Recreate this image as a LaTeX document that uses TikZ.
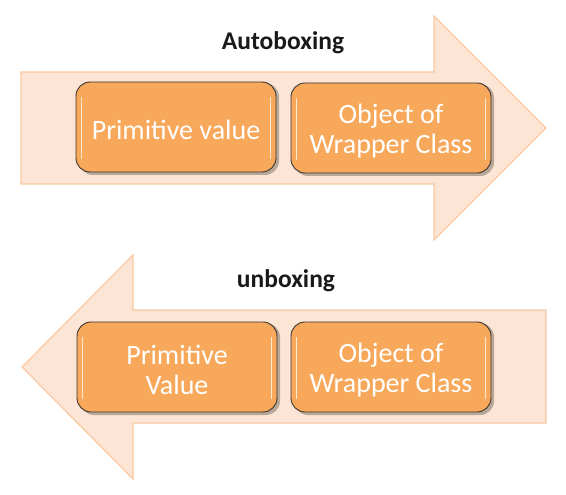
\documentclass[tikz,border=0pt]{standalone}
\usepackage{fontspec}
\setmainfont{Carlito}
\definecolor{arrowfill}{HTML}{FDE5D6}
\definecolor{arrowline}{HTML}{F8C9A3}
\definecolor{boxfill}{HTML}{F8A85A}
\definecolor{boxline}{HTML}{3A3430}
\definecolor{boxshadow}{HTML}{B9A898}
\tikzset{
  bigarrow/.style={fill=arrowfill, draw=arrowline, line width=1.2pt, line join=miter},
  stagebox/.style={rectangle, rounded corners=14pt, minimum width=200pt, minimum height=90pt,
    fill=boxfill, draw=boxline, line width=0.9pt, inner sep=0pt},
  stagetext/.style={text=white, align=center, font=\fontsize{28}{30}\selectfont, inner sep=0pt},
  boxshade/.style={fill=boxshadow, rounded corners=14pt},
  gloss/.style={draw=white, line width=1.1pt, opacity=0.75, line cap=round},
  caption/.style={font=\bfseries\fontsize{25.5}{28}\selectfont, text=black!90}
}
\newcommand{\stage}[3]{%
  % shadow, box, label and glossy edge highlights of one stage
  \fill[boxshade] ($(#2)+(-97,-44)$) rectangle ($(#2)+(103,48)$);
  \node[stagebox] (#1) at (#2) {};
  \node[stagetext] (#1-text) at ($(#1.center)+(0,3)$) {#3};
  \draw[gloss] ($(#1.north west)+(6pt,-16pt)$) -- ($(#1.south west)+(6pt,14pt)$);
  \draw[gloss] ($(#1.north east)+(-6pt,-16pt)$) -- ($(#1.south east)+(-6pt,14pt)$);
}
\usetikzlibrary{calc}
\begin{document}
\begin{tikzpicture}[x=1pt,y=-1pt]
\useasboundingbox (0,0) rectangle (566,495);

% right-pointing arrow (autoboxing)
\draw[bigarrow] (21,72) -- (434,72) -- (434,16) -- (546,128) -- (434,240)
  -- (434,184) -- (21,184) -- cycle;
\node[caption] (autotitle) at (283,43) {Autoboxing};
\stage{prim1}{176,127}{Primitive value}
\stage{obj1}{391,128}{Object of\\Wrapper Class}

% left-pointing arrow (unboxing)
\draw[bigarrow] (546,310) -- (133,310) -- (133,255) -- (22,367) -- (133,479)
  -- (133,423) -- (546,423) -- cycle;
\node[caption] (unboxtitle) at (286,281) {unboxing};
\stage{prim2}{177,367}{Primitive\\Value}
\stage{obj2}{391,367}{Object of\\Wrapper Class}
\end{tikzpicture}
\end{document}
